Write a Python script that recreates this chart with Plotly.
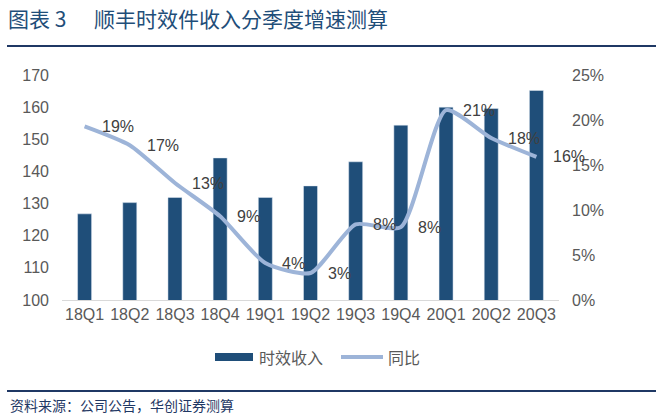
import plotly.graph_objects as go

categories = ["18Q1", "18Q2", "18Q3", "18Q4", "19Q1", "19Q2", "19Q3", "19Q4", "20Q1", "20Q2", "20Q3"]
revenue = [126.8, 130.3, 131.9, 144.2, 131.9, 135.5, 143.0, 154.4, 160.0, 159.6, 165.2]
yoy = [0.193, 0.172, 0.130, 0.093, 0.041, 0.030, 0.084, 0.081, 0.211, 0.180, 0.159]
left_ticks = [100, 110, 120, 130, 140, 150, 160, 170]
right_ticks = [0, 0.05, 0.10, 0.15, 0.20, 0.25]
title_label = "图表 3"
title_text = "顺丰时效件收入分季度增速测算"
source_text = "资料来源：公司公告，华创证券测算"
legend_names = ["时效收入", "同比"]

W, H = 656, 418
L, R, T, B = 62, 97, 75, 118
PW, PH = W - L - R, H - T - B

def px(x):
    return (x - L) / PW

def py(y):
    return (H - B - y) / PH

BAR = "#1F4E79"
LINE = "#9DB4D8"
FONT = "Arial, Liberation Sans, sans-serif"
CJK = "Noto Sans CJK SC"

fig = go.Figure()
fig.add_trace(go.Bar(x=categories, y=revenue, marker_color=BAR, name=legend_names[0],
                     width=0.31, showlegend=False))
fig.add_trace(go.Scatter(x=categories, y=yoy, yaxis="y2", mode="lines", name=legend_names[1],
                         line=dict(color=LINE, width=4, shape="spline", smoothing=0.6),
                         showlegend=False))

annotations = []
for c, v in zip(categories, yoy):
    annotations.append(dict(x=c, y=v, xref="x", yref="y2", text=f"{v:.0%}", showarrow=False,
                            xanchor="left", yanchor="middle", xshift=15,
                            font=dict(family=FONT, size=16, color="#404040")))

# title and source
annotations.append(dict(x=px(6), y=py(18), xref="paper", yref="paper", text=title_label,
                        showarrow=False, xanchor="left", yanchor="middle",
                        font=dict(family=CJK, size=21, color="#1F4E79")))
annotations.append(dict(x=px(92), y=py(18), xref="paper", yref="paper", text=title_text,
                        showarrow=False, xanchor="left", yanchor="middle",
                        font=dict(family=CJK, size=21, color="#1F4E79")))
annotations.append(dict(x=px(8), y=py(405), xref="paper", yref="paper", text=source_text,
                        showarrow=False, xanchor="left", yanchor="middle",
                        font=dict(family=CJK, size=14, color="#1F3864")))
# legend text
annotations.append(dict(x=px(257), y=py(357), xref="paper", yref="paper", text=legend_names[0],
                        showarrow=False, xanchor="left", yanchor="middle",
                        font=dict(family=CJK, size=16, color="#595959")))
annotations.append(dict(x=px(386), y=py(357), xref="paper", yref="paper", text=legend_names[1],
                        showarrow=False, xanchor="left", yanchor="middle",
                        font=dict(family=CJK, size=16, color="#595959")))

shapes = [
    dict(type="line", xref="paper", yref="paper", x0=px(7), x1=px(656), y0=py(46), y1=py(46),
         line=dict(color="#1F3864", width=2)),
    dict(type="line", xref="paper", yref="paper", x0=px(7), x1=px(656), y0=py(391), y1=py(391),
         line=dict(color="#1F3864", width=2)),
    dict(type="rect", xref="paper", yref="paper", x0=px(215), x1=px(253), y0=py(361), y1=py(353),
         fillcolor=BAR, line=dict(width=0)),
    dict(type="line", xref="paper", yref="paper", x0=px(341), x1=px(383), y0=py(357), y1=py(357),
         line=dict(color=LINE, width=4)),
]

fig.update_layout(
    width=W, height=H,
    margin=dict(l=L, r=R, t=T, b=B),
    paper_bgcolor="white", plot_bgcolor="white",
    bargap=0.69,
    showlegend=False,
    xaxis=dict(type="category", showgrid=False, showline=True, linecolor="#D9D9D9", linewidth=1,
               ticks="", tickfont=dict(family=FONT, size=16, color="#595959"),
               range=[-0.5, len(categories) - 0.5]),
    yaxis=dict(range=[100, 170], tickvals=left_ticks, showgrid=False, zeroline=False,
               ticks="", ticklabelstandoff=12, tickfont=dict(family=FONT, size=16, color="#595959")),
    yaxis2=dict(range=[0, 0.25], tickvals=right_ticks, tickformat=".0%", overlaying="y",
                side="right", showgrid=False, zeroline=False, ticks="", ticklabelstandoff=12,
                tickfont=dict(family=FONT, size=16, color="#595959")),
    annotations=annotations,
    shapes=shapes,
)

fig.write_html("out.html", config={"displayModeBar": False},
               post_script="document.body.style.margin='0';document.body.style.overflow='hidden';")
